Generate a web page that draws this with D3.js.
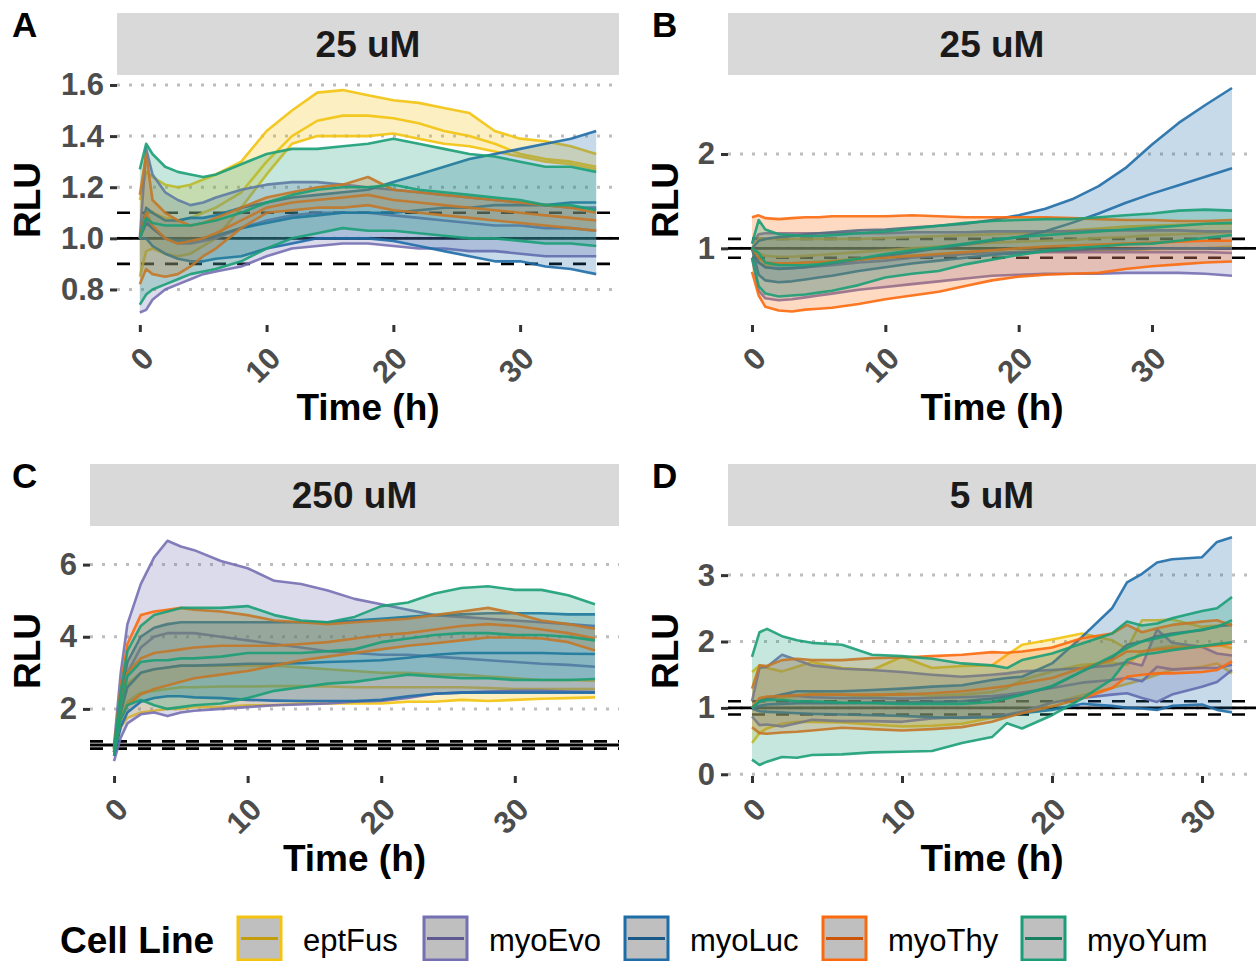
<!DOCTYPE html>
<html lang="en">
<head>
<meta charset="UTF-8">
<title>RLU time courses by cell line</title>
<style>
  body { margin: 0; background: #fff; }
  svg { display: block; font-family: "Liberation Sans", Arial, sans-serif; }
</style>
</head>
<body>

<svg id="chart" width="1256" height="961"></svg>

<script src="https://cdn.jsdelivr.net/npm/d3@7"></script>
<script>

// cell lines and their colours (legend order = drawing order)
const cellLines = ["eptFus", "myoEvo", "myoLuc", "myoThy", "myoYum"];
const lineColors = ["#f2c30f", "#7570b3", "#1f6da7", "#fb6a0e", "#1b9e77"];

// sampled time points (h)
const timeABC = [0, 0.5, 1, 2, 3, 4, 5, 6, 8, 10, 12, 14, 16, 18, 20, 22, 24, 26, 28, 30, 32, 34, 36];
const timeD = [0, 0.5, 1, 2, 3, 4, 6, 8, 10, 12, 14, 16, 17, 18, 20, 22, 24, 25, 26, 27, 28, 30, 31, 32];

// ---- panel A : 25 uM ----
const panelA_eptFus = {
  hi:  [1.15, 1.26, 1.24, 1.21, 1.20, 1.21, 1.23, 1.25, 1.30, 1.42, 1.50, 1.57, 1.58, 1.56, 1.54, 1.53, 1.51, 1.49, 1.42, 1.39, 1.38, 1.36, 1.33],
  mid: [1.00, 1.10, 1.10, 1.08, 1.07, 1.08, 1.10, 1.12, 1.18, 1.30, 1.40, 1.46, 1.48, 1.48, 1.47, 1.45, 1.42, 1.40, 1.37, 1.33, 1.31, 1.30, 1.28],
  lo:  [0.85, 0.95, 0.96, 0.94, 0.93, 0.94, 0.97, 1.00, 1.12, 1.25, 1.37, 1.40, 1.40, 1.40, 1.41, 1.39, 1.37, 1.36, 1.34, 1.32, 1.30, 1.29, 1.27]
};
const panelA_myoEvo = {
  hi:  [1.00, 1.35, 1.25, 1.18, 1.15, 1.13, 1.14, 1.16, 1.19, 1.21, 1.22, 1.22, 1.21, 1.20, 1.19, 1.18, 1.17, 1.16, 1.15, 1.14, 1.13, 1.12, 1.12],
  mid: [1.00, 1.08, 1.04, 1.00, 0.98, 0.98, 0.99, 1.00, 1.04, 1.07, 1.09, 1.10, 1.10, 1.10, 1.09, 1.08, 1.07, 1.06, 1.05, 1.05, 1.04, 1.04, 1.03],
  lo:  [0.71, 0.72, 0.76, 0.80, 0.82, 0.84, 0.86, 0.87, 0.89, 0.93, 0.96, 0.97, 0.98, 0.98, 0.97, 0.96, 0.96, 0.95, 0.95, 0.94, 0.93, 0.93, 0.93]
};
const panelA_myoLuc = {
  hi:  [1.00, 1.12, 1.10, 1.07, 1.07, 1.08, 1.08, 1.09, 1.12, 1.14, 1.16, 1.17, 1.18, 1.19, 1.22, 1.25, 1.28, 1.31, 1.33, 1.35, 1.37, 1.39, 1.42],
  mid: [1.00, 1.06, 1.04, 1.00, 0.99, 0.99, 1.00, 1.01, 1.04, 1.06, 1.08, 1.09, 1.10, 1.10, 1.10, 1.11, 1.12, 1.12, 1.13, 1.13, 1.13, 1.14, 1.14],
  lo:  [1.00, 1.00, 0.97, 0.94, 0.92, 0.91, 0.91, 0.92, 0.93, 0.96, 0.98, 1.00, 1.00, 1.00, 0.99, 0.97, 0.95, 0.93, 0.91, 0.91, 0.89, 0.88, 0.86]
};
const panelA_myoThy = {
  hi:  [1.17, 1.33, 1.15, 1.10, 1.07, 1.05, 1.06, 1.08, 1.12, 1.16, 1.18, 1.20, 1.21, 1.24, 1.19, 1.18, 1.17, 1.16, 1.15, 1.14, 1.13, 1.12, 1.10],
  mid: [1.00, 1.10, 1.05, 1.00, 0.98, 0.99, 1.00, 1.02, 1.07, 1.12, 1.14, 1.15, 1.16, 1.17, 1.15, 1.14, 1.13, 1.12, 1.11, 1.10, 1.09, 1.08, 1.07],
  lo:  [0.82, 0.88, 0.86, 0.85, 0.86, 0.89, 0.93, 0.96, 1.04, 1.10, 1.11, 1.12, 1.12, 1.13, 1.11, 1.10, 1.09, 1.08, 1.07, 1.06, 1.05, 1.04, 1.03]
};
const panelA_myoYum = {
  hi:  [1.27, 1.37, 1.33, 1.28, 1.26, 1.25, 1.24, 1.25, 1.29, 1.33, 1.35, 1.35, 1.36, 1.37, 1.39, 1.37, 1.35, 1.33, 1.32, 1.30, 1.28, 1.28, 1.26],
  mid: [1.00, 1.08, 1.06, 1.05, 1.05, 1.05, 1.06, 1.07, 1.10, 1.14, 1.17, 1.19, 1.20, 1.20, 1.21, 1.19, 1.18, 1.17, 1.16, 1.15, 1.13, 1.13, 1.11],
  lo:  [0.74, 0.78, 0.80, 0.82, 0.84, 0.86, 0.87, 0.88, 0.91, 0.96, 1.00, 1.02, 1.04, 1.03, 1.03, 1.02, 1.01, 1.00, 1.00, 0.99, 0.98, 0.98, 0.97]
};

// ---- panel B : 25 uM ----
const panelB_eptFus = {
  hi:  [1.00, 1.10, 1.10, 1.10, 1.10, 1.10, 1.10, 1.10, 1.10, 1.11, 1.12, 1.13, 1.14, 1.15, 1.16, 1.17, 1.19, 1.21, 1.23, 1.24, 1.25, 1.26, 1.26],
  mid: [1.00, 0.95, 0.92, 0.91, 0.91, 0.92, 0.93, 0.94, 0.96, 0.98, 1.00, 1.02, 1.04, 1.06, 1.07, 1.08, 1.09, 1.11, 1.12, 1.14, 1.15, 1.16, 1.17],
  lo:  [1.00, 0.85, 0.82, 0.83, 0.84, 0.85, 0.86, 0.87, 0.89, 0.91, 0.92, 0.93, 0.94, 0.95, 0.96, 0.97, 0.97, 0.98, 0.98, 0.99, 1.00, 1.00, 1.02]
};
const panelB_myoEvo = {
  hi:  [1.05, 1.15, 1.16, 1.16, 1.16, 1.16, 1.16, 1.16, 1.16, 1.16, 1.17, 1.17, 1.17, 1.18, 1.18, 1.18, 1.18, 1.19, 1.19, 1.19, 1.19, 1.18, 1.18],
  mid: [1.00, 0.85, 0.80, 0.79, 0.79, 0.80, 0.81, 0.82, 0.85, 0.87, 0.90, 0.92, 0.94, 0.95, 0.96, 0.96, 0.96, 0.96, 0.96, 0.96, 0.96, 0.96, 0.95],
  lo:  [0.90, 0.55, 0.47, 0.45, 0.46, 0.48, 0.50, 0.52, 0.56, 0.59, 0.62, 0.65, 0.68, 0.71, 0.72, 0.73, 0.73, 0.73, 0.74, 0.74, 0.74, 0.73, 0.71]
};
const panelB_myoLuc = {
  hi:  [1.00, 1.08, 1.10, 1.12, 1.13, 1.15, 1.16, 1.17, 1.19, 1.20, 1.22, 1.24, 1.26, 1.30, 1.35, 1.42, 1.52, 1.66, 1.85, 2.10, 2.33, 2.52, 2.70],
  mid: [1.00, 0.85, 0.80, 0.78, 0.79, 0.80, 0.82, 0.84, 0.88, 0.92, 0.96, 1.00, 1.04, 1.08, 1.12, 1.18, 1.27, 1.37, 1.48, 1.58, 1.67, 1.76, 1.85],
  lo:  [1.00, 0.72, 0.66, 0.64, 0.65, 0.67, 0.69, 0.71, 0.76, 0.80, 0.84, 0.87, 0.90, 0.93, 0.95, 0.97, 0.98, 0.99, 0.99, 1.00, 1.00, 1.00, 1.00]
};
const panelB_myoThy = {
  hi:  [1.33, 1.35, 1.32, 1.31, 1.32, 1.33, 1.33, 1.34, 1.34, 1.34, 1.35, 1.34, 1.33, 1.33, 1.33, 1.33, 1.32, 1.31, 1.30, 1.30, 1.29, 1.29, 1.30],
  mid: [1.00, 0.90, 0.85, 0.84, 0.84, 0.85, 0.85, 0.86, 0.88, 0.90, 0.92, 0.94, 0.96, 0.98, 1.00, 1.02, 1.03, 1.04, 1.05, 1.06, 1.07, 1.08, 1.08],
  lo:  [0.75, 0.50, 0.38, 0.34, 0.33, 0.35, 0.36, 0.37, 0.41, 0.46, 0.50, 0.54, 0.60, 0.66, 0.70, 0.72, 0.73, 0.74, 0.78, 0.81, 0.83, 0.85, 0.86]
};
const panelB_myoYum = {
  hi:  [1.05, 1.30, 1.20, 1.15, 1.14, 1.13, 1.13, 1.14, 1.16, 1.18, 1.21, 1.24, 1.27, 1.29, 1.30, 1.31, 1.31, 1.33, 1.35, 1.37, 1.40, 1.41, 1.40],
  mid: [1.00, 0.95, 0.85, 0.82, 0.82, 0.82, 0.83, 0.85, 0.89, 0.94, 0.98, 1.01, 1.05, 1.09, 1.12, 1.14, 1.16, 1.18, 1.20, 1.22, 1.24, 1.26, 1.27],
  lo:  [0.90, 0.60, 0.52, 0.49, 0.50, 0.51, 0.53, 0.55, 0.61, 0.69, 0.73, 0.76, 0.83, 0.88, 0.93, 0.97, 1.00, 1.02, 1.04, 1.05, 1.08, 1.11, 1.14]
};

// ---- panel C : 250 uM ----
const panelC_eptFus = {
  hi:  [0.90, 2.00, 2.70, 3.00, 3.10, 3.15, 3.20, 3.20, 3.20, 3.20, 3.20, 3.15, 3.10, 3.05, 3.00, 3.00, 2.95, 2.95, 2.90, 2.85, 2.80, 2.80, 2.78],
  mid: [0.90, 1.80, 2.20, 2.45, 2.50, 2.55, 2.60, 2.60, 2.62, 2.62, 2.63, 2.63, 2.62, 2.60, 2.60, 2.60, 2.60, 2.60, 2.58, 2.55, 2.55, 2.55, 2.55],
  lo:  [0.90, 1.50, 1.75, 1.90, 1.95, 2.00, 2.00, 2.05, 2.05, 2.10, 2.10, 2.15, 2.15, 2.15, 2.15, 2.20, 2.20, 2.25, 2.22, 2.25, 2.28, 2.30, 2.32]
};
const panelC_myoEvo = {
  hi:  [1.00, 3.00, 4.35, 5.46, 6.20, 6.66, 6.50, 6.40, 6.10, 5.90, 5.55, 5.46, 5.28, 5.05, 4.90, 4.75, 4.60, 4.55, 4.50, 4.45, 4.40, 4.35, 4.30],
  mid: [0.80, 2.20, 3.00, 3.70, 4.00, 4.10, 4.10, 4.10, 4.00, 3.90, 3.80, 3.70, 3.60, 3.55, 3.50, 3.50, 3.45, 3.40, 3.35, 3.30, 3.25, 3.22, 3.17],
  lo:  [0.55, 1.20, 1.60, 1.85, 1.90, 1.80, 1.90, 1.95, 2.00, 2.05, 2.10, 2.12, 2.15, 2.20, 2.22, 2.30, 2.42, 2.45, 2.48, 2.50, 2.50, 2.48, 2.47]
};
const panelC_myoLuc = {
  hi:  [0.90, 2.30, 3.30, 4.00, 4.25, 4.35, 4.40, 4.40, 4.40, 4.40, 4.40, 4.40, 4.40, 4.45, 4.50, 4.55, 4.60, 4.62, 4.65, 4.65, 4.65, 4.62, 4.62],
  mid: [0.80, 1.90, 2.60, 3.00, 3.10, 3.15, 3.20, 3.20, 3.22, 3.25, 3.25, 3.27, 3.30, 3.32, 3.35, 3.42, 3.50, 3.55, 3.55, 3.55, 3.55, 3.53, 3.52],
  lo:  [0.70, 1.50, 1.90, 2.20, 2.30, 2.35, 2.35, 2.32, 2.30, 2.25, 2.23, 2.22, 2.22, 2.22, 2.25, 2.35, 2.42, 2.45, 2.45, 2.45, 2.45, 2.45, 2.45]
};
const panelC_myoThy = {
  hi:  [0.90, 2.60, 3.80, 4.60, 4.70, 4.75, 4.80, 4.75, 4.70, 4.60, 4.45, 4.40, 4.35, 4.40, 4.45, 4.50, 4.60, 4.70, 4.80, 4.65, 4.45, 4.35, 4.22],
  mid: [0.85, 2.10, 3.00, 3.40, 3.55, 3.60, 3.65, 3.70, 3.75, 3.75, 3.75, 3.80, 3.85, 3.95, 4.05, 4.10, 4.20, 4.30, 4.35, 4.30, 4.20, 4.10, 3.95],
  lo:  [0.80, 1.70, 2.10, 2.40, 2.55, 2.65, 2.75, 2.85, 2.95, 3.05, 3.20, 3.35, 3.45, 3.55, 3.65, 3.75, 3.82, 3.90, 3.98, 3.98, 3.95, 3.85, 3.62]
};
const panelC_myoYum = {
  hi:  [0.90, 2.50, 3.60, 4.30, 4.60, 4.70, 4.80, 4.80, 4.80, 4.85, 4.60, 4.45, 4.40, 4.55, 4.85, 4.95, 5.20, 5.35, 5.40, 5.30, 5.30, 5.15, 4.90],
  mid: [0.80, 2.10, 2.90, 3.30, 3.35, 3.35, 3.40, 3.40, 3.45, 3.55, 3.55, 3.55, 3.60, 3.65, 3.85, 3.95, 4.05, 4.10, 4.10, 4.05, 4.05, 4.00, 3.90],
  lo:  [0.70, 1.70, 2.10, 2.25, 2.10, 2.00, 2.05, 2.10, 2.15, 2.30, 2.50, 2.60, 2.70, 2.75, 2.85, 2.95, 2.90, 2.85, 2.85, 2.80, 2.80, 2.80, 2.83]
};

// ---- panel D : 5 uM ----
const panelD_eptFus = {
  hi:  [1.54, 1.64, 1.60, 1.55, 1.62, 1.69, 1.60, 1.57, 1.77, 1.60, 1.63, 1.64, 1.80, 1.95, 2.03, 2.12, 2.02, 1.89, 2.32, 2.32, 2.33, 2.22, 2.24, 2.27],
  mid: [1.00, 1.12, 1.13, 1.15, 1.18, 1.22, 1.20, 1.17, 1.22, 1.18, 1.20, 1.24, 1.30, 1.42, 1.55, 1.65, 1.68, 1.65, 1.85, 1.90, 1.93, 1.93, 1.95, 1.90],
  lo:  [0.47, 0.62, 0.69, 0.76, 0.79, 0.79, 0.78, 0.75, 0.72, 0.73, 0.76, 0.85, 0.88, 0.94, 1.07, 1.19, 1.30, 1.36, 1.42, 1.50, 1.57, 1.62, 1.67, 1.52]
};
const panelD_myoEvo = {
  hi:  [1.10, 1.60, 1.62, 1.80, 1.72, 1.64, 1.59, 1.57, 1.54, 1.50, 1.47, 1.50, 1.52, 1.55, 1.57, 1.60, 1.64, 1.69, 1.64, 2.18, 1.98, 1.92, 1.82, 1.79],
  mid: [1.00, 1.10, 1.12, 1.20, 1.18, 1.16, 1.15, 1.15, 1.14, 1.15, 1.16, 1.18, 1.20, 1.23, 1.30, 1.38, 1.42, 1.45, 1.40, 1.62, 1.58, 1.60, 1.60, 1.65],
  lo:  [0.87, 0.74, 0.75, 0.72, 0.77, 0.82, 0.80, 0.80, 0.79, 0.84, 0.86, 0.87, 0.90, 0.94, 1.08, 1.15, 1.20, 1.22, 1.15, 1.09, 1.20, 1.32, 1.39, 1.57]
};
const panelD_myoLuc = {
  hi:  [1.00, 1.10, 1.15, 1.20, 1.25, 1.25, 1.25, 1.27, 1.29, 1.32, 1.34, 1.42, 1.45, 1.47, 1.67, 2.07, 2.50, 2.89, 3.02, 3.19, 3.24, 3.27, 3.50, 3.57],
  mid: [1.00, 1.03, 1.05, 1.06, 1.07, 1.07, 1.07, 1.08, 1.08, 1.09, 1.10, 1.14, 1.17, 1.20, 1.32, 1.55, 1.75, 1.95, 2.00, 2.08, 2.12, 2.17, 2.23, 2.25],
  lo:  [0.99, 0.95, 0.94, 0.93, 0.92, 0.91, 0.90, 0.89, 0.88, 0.86, 0.85, 0.86, 0.88, 0.92, 0.97, 1.06, 1.03, 1.00, 0.99, 0.97, 1.03, 1.05, 0.97, 0.93]
};
const panelD_myoThy = {
  hi:  [1.29, 1.64, 1.63, 1.72, 1.74, 1.72, 1.72, 1.75, 1.76, 1.78, 1.80, 1.84, 1.83, 1.85, 1.91, 2.05, 2.12, 2.25, 2.14, 2.20, 2.25, 2.30, 2.32, 2.24],
  mid: [1.00, 1.15, 1.17, 1.18, 1.19, 1.20, 1.20, 1.20, 1.20, 1.22, 1.25, 1.30, 1.33, 1.37, 1.45, 1.60, 1.72, 1.85, 1.85, 1.88, 1.90, 1.92, 1.94, 1.97],
  lo:  [0.71, 0.62, 0.61, 0.63, 0.64, 0.66, 0.70, 0.68, 0.66, 0.68, 0.71, 0.79, 0.86, 0.92, 1.02, 1.14, 1.30, 1.47, 1.50, 1.52, 1.52, 1.54, 1.57, 1.70]
};
const panelD_myoYum = {
  hi:  [1.77, 2.14, 2.19, 2.08, 2.02, 1.98, 1.95, 1.80, 1.78, 1.74, 1.67, 1.64, 1.60, 1.72, 1.82, 1.97, 2.12, 2.30, 2.24, 2.27, 2.35, 2.46, 2.50, 2.67],
  mid: [1.00, 1.10, 1.12, 1.12, 1.10, 1.10, 1.08, 1.07, 1.06, 1.06, 1.06, 1.09, 1.14, 1.20, 1.33, 1.55, 1.78, 1.90, 2.00, 2.05, 2.10, 2.18, 2.22, 2.32],
  lo:  [0.22, 0.14, 0.19, 0.26, 0.25, 0.29, 0.30, 0.33, 0.34, 0.35, 0.47, 0.56, 0.77, 0.69, 0.89, 1.14, 1.43, 1.72, 1.80, 1.83, 1.87, 1.93, 1.96, 1.99]
};

// reference lines drawn in every panel
const refSolid = [1];
const refDashed = [0.9, 1.1];

// ---- panel setup ----
var stripH = 62, panelH = 250;

var panels = [
  { letter: "A", title: "25 uM", time: timeABC,
    series: [panelA_eptFus, panelA_myoEvo, panelA_myoLuc, panelA_myoThy, panelA_myoYum],
    xDomain: [-1.8, 37.8], yDomain: [0.661, 1.639],
    yTicks: [0.8, 1.0, 1.2, 1.4, 1.6], fmt: d3.format(".1f"),
    left: 117, right: 619, stripTop: 13, letterX: 12, yTitleX: 40 },
  { letter: "B", title: "25 uM", time: timeABC,
    series: [panelB_eptFus, panelB_myoEvo, panelB_myoLuc, panelB_myoThy, panelB_myoYum],
    xDomain: [-1.8, 37.8], yDomain: [0.187, 2.838],
    yTicks: [1, 2], fmt: d3.format("d"),
    left: 728, right: 1256, stripTop: 13, letterX: 652, yTitleX: 678 },
  { letter: "C", title: "250 uM", time: timeABC,
    series: [panelC_eptFus, panelC_myoEvo, panelC_myoLuc, panelC_myoThy, panelC_myoYum],
    xDomain: [-1.8, 37.8], yDomain: [0.14, 7.07],
    yTicks: [2, 4, 6], fmt: d3.format("d"),
    left: 90, right: 619, stripTop: 464, letterX: 12, yTitleX: 40 },
  { letter: "D", title: "5 uM", time: timeD,
    series: [panelD_eptFus, panelD_myoEvo, panelD_myoLuc, panelD_myoThy, panelD_myoYum],
    xDomain: [-1.6, 33.6], yDomain: [-0.026, 3.74],
    yTicks: [0, 1, 2, 3], fmt: d3.format("d"),
    left: 728, right: 1256, stripTop: 464, letterX: 652, yTitleX: 678 }
];

var svg = d3.select("#chart");
svg.append("rect").attr("width", 1256).attr("height", 961).attr("fill", "#fff");

panels.forEach(function(p) {
  var top = p.stripTop + stripH,
      bottom = top + panelH,
      cx = (p.left + p.right) / 2;

  var x = d3.scaleLinear().domain(p.xDomain).range([p.left, p.right]);
  var y = d3.scaleLinear().domain(p.yDomain).range([bottom, top]);

  var g = svg.append("g");

  // facet strip
  g.append("rect")
    .attr("x", p.left).attr("y", p.stripTop)
    .attr("width", p.right - p.left).attr("height", stripH)
    .attr("fill", "#d9d9d9");
  g.append("text")
    .attr("x", cx).attr("y", p.stripTop + stripH / 2 + 13)
    .attr("text-anchor", "middle")
    .attr("font-size", 37).attr("font-weight", "bold")
    .attr("fill", "#1a1a1a")
    .text(p.title);

  // panel letter
  svg.append("text")
    .attr("x", p.letterX).attr("y", p.stripTop + 24)
    .attr("font-size", 35).attr("font-weight", "bold")
    .text(p.letter);

  // dotted horizontal grid
  g.selectAll(".grid")
    .data(p.yTicks)
    .join("line")
    .attr("x1", p.left).attr("x2", p.right)
    .attr("y1", function(d) { return y(d); })
    .attr("y2", function(d) { return y(d); })
    .attr("stroke", "#bdbdbd")
    .attr("stroke-width", 3)
    .attr("stroke-dasharray", "3 9");

  // clip everything to the panel
  var clipId = "clip" + p.letter;
  svg.append("clipPath").attr("id", clipId)
    .append("rect")
    .attr("x", p.left).attr("y", top)
    .attr("width", p.right - p.left).attr("height", panelH);

  var plot = g.append("g").attr("clip-path", "url(#" + clipId + ")");

  // reference lines at 0.9 / 1 / 1.1 (under the ribbons)
  plot.selectAll(".dash")
    .data(refDashed)
    .join("line")
    .attr("x1", p.left).attr("x2", p.right)
    .attr("y1", function(d) { return y(d); })
    .attr("y2", function(d) { return y(d); })
    .attr("stroke", "#000")
    .attr("stroke-width", 2.6)
    .attr("stroke-dasharray", "13 11");
  plot.selectAll(".solid")
    .data(refSolid)
    .join("line")
    .attr("x1", p.left).attr("x2", p.right)
    .attr("y1", function(d) { return y(d); })
    .attr("y2", function(d) { return y(d); })
    .attr("stroke", "#000")
    .attr("stroke-width", 2.8);

  // ribbons + lines, one cell line at a time
  var area = d3.area()
    .x(function(d) { return x(d.t); })
    .y0(function(d) { return y(d.lo); })
    .y1(function(d) { return y(d.hi); });

  p.series.forEach(function(s, i) {
    var color = lineColors[i];
    var pts = p.time.map(function(t, k) {
      return { t: t, lo: s.lo[k], mid: s.mid[k], hi: s.hi[k] };
    });

    plot.append("path")
      .datum(pts)
      .attr("d", area)
      .attr("fill", color)
      .attr("fill-opacity", 0.25);

    ["lo", "hi", "mid"].forEach(function(key) {
      var line = d3.line()
        .x(function(d) { return x(d.t); })
        .y(function(d) { return y(d[key]); });
      plot.append("path")
        .datum(pts)
        .attr("d", line)
        .attr("fill", "none")
        .attr("stroke", color)
        .attr("stroke-width", 2.6)
        .attr("stroke-opacity", 0.9)
        .attr("stroke-linejoin", "round");
    });
  });

  // y axis
  var yAxis = g.append("g")
    .attr("transform", "translate(" + p.left + ",0)")
    .call(d3.axisLeft(y).tickValues(p.yTicks).tickFormat(p.fmt).tickSize(7).tickPadding(6));
  yAxis.select(".domain").remove();
  yAxis.selectAll("line").attr("stroke", "#333").attr("stroke-width", 3);
  yAxis.selectAll("text")
    .attr("font-family", "Liberation Sans, Arial, sans-serif")
    .attr("font-size", 31).attr("font-weight", "bold")
    .attr("fill", "#4d4d4d");

  // x axis with rotated labels
  var xAxis = g.append("g")
    .attr("transform", "translate(0," + bottom + ")")
    .call(d3.axisBottom(x).tickValues([0, 10, 20, 30]).tickSize(7));
  xAxis.select(".domain").remove();
  xAxis.selectAll("line").attr("stroke", "#333").attr("stroke-width", 3);
  xAxis.selectAll("text")
    .attr("y", null).attr("dy", null)
    .attr("dominant-baseline", "central")
    .attr("text-anchor", "end")
    .attr("transform", "translate(8,28) rotate(-45)")
    .attr("font-family", "Liberation Sans, Arial, sans-serif")
    .attr("font-size", 31).attr("font-weight", "bold")
    .attr("fill", "#4d4d4d");

  // axis titles
  g.append("text")
    .attr("x", cx).attr("y", bottom + 95)
    .attr("text-anchor", "middle")
    .attr("font-size", 37).attr("font-weight", "bold")
    .text("Time (h)");
  g.append("text")
    .attr("transform", "translate(" + p.yTitleX + "," + (top + panelH / 2) + ") rotate(-90)")
    .attr("text-anchor", "middle")
    .attr("font-size", 37).attr("font-weight", "bold")
    .text("RLU");
});

// ---- legend ----
var keyX = [238, 424, 625, 823, 1022];
var legend = svg.append("g");

legend.append("text")
  .attr("x", 60).attr("y", 953)
  .attr("font-size", 37).attr("font-weight", "bold")
  .text("Cell Line");

cellLines.forEach(function(name, i) {
  var kx = keyX[i], ky = 917, ks = 43;
  legend.append("rect")
    .attr("x", kx).attr("y", ky)
    .attr("width", ks).attr("height", ks)
    .attr("fill", "#bfbfbf")
    .attr("stroke", lineColors[i])
    .attr("stroke-width", 3);
  legend.append("line")
    .attr("x1", kx + 3).attr("x2", kx + ks - 3)
    .attr("y1", ky + ks / 2).attr("y2", ky + ks / 2)
    .attr("stroke", d3.color(lineColors[i]).darker(0.6))
    .attr("stroke-width", 3);
  legend.append("text")
    .attr("x", kx + ks + 22).attr("y", 951)
    .attr("font-size", 31)
    .text(name);
});

</script>
</body>
</html>
